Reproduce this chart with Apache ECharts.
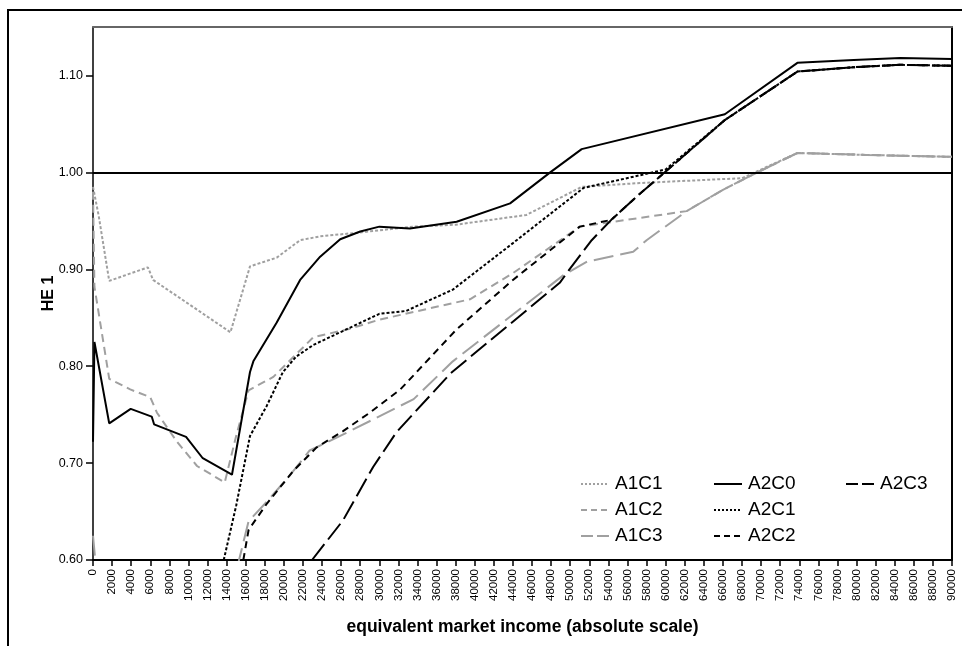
<!DOCTYPE html>
<html>
<head>
<meta charset="utf-8">
<script src="https://cdn.jsdelivr.net/npm/echarts@6/dist/echarts.min.js"></script>
<style>
html,body{margin:0;padding:0;background:#fff;}
#chart{width:962px;height:646px;}
</style>
</head>
<body>
<div id="chart"></div>
<script>
// ---- data (income, HE 1) ----
const A1C1 = [[0,0.985],[600,0.955],[1700,0.888],[5750,0.902],[6300,0.889],[14400,0.835],[16450,0.903],[19250,0.912],[21700,0.930],[23800,0.934],[28000,0.938],[33500,0.944],[38000,0.946],[45400,0.956],[51200,0.985],[57300,0.989],[68000,0.994],[73800,1.020],[81000,1.018],[90000,1.016]];
const A1C2 = [[0,0.98],[150,0.882],[1700,0.787],[3900,0.776],[6000,0.768],[6700,0.752],[8800,0.722],[10900,0.697],[13800,0.680],[15000,0.728],[16300,0.775],[18900,0.789],[23100,0.830],[26700,0.838],[30000,0.848],[39500,0.869],[44000,0.896],[51000,0.944],[57300,0.953],[62200,0.960],[66000,0.982],[69600,1.000],[73800,1.020],[81000,1.018],[90000,1.016]];
const A1C3 = [[0,0.625],[1000,0.52],[14000,0.52],[15300,0.60],[16300,0.640],[18200,0.660],[20600,0.687],[22700,0.713],[25900,0.728],[33600,0.766],[37700,0.805],[49300,0.894],[51800,0.908],[56600,0.918],[58000,0.930],[62200,0.960],[66000,0.982],[69600,1.000],[73800,1.020],[81000,1.018],[90000,1.016]];
const A2C0 = [[0,0.722],[150,0.825],[1700,0.741],[3950,0.756],[6150,0.748],[6400,0.740],[9750,0.727],[11500,0.705],[14560,0.688],[16450,0.794],[16800,0.805],[19250,0.845],[21700,0.889],[23800,0.913],[25900,0.931],[28000,0.939],[30000,0.944],[33200,0.942],[38100,0.949],[43700,0.968],[47900,1.000],[51200,1.024],[66200,1.060],[73800,1.113],[79700,1.116],[84600,1.118],[90000,1.117]];
const A2C1 = [[13700,0.60],[15000,0.656],[16450,0.728],[18200,0.759],[19900,0.794],[21300,0.810],[23100,0.822],[25900,0.835],[30000,0.854],[32800,0.857],[37700,0.879],[44000,0.927],[51400,0.984],[57300,0.997],[60000,1.003],[66200,1.054],[73800,1.104],[79700,1.1085],[84600,1.111],[90000,1.110]];
const A2C2 = [[15750,0.60],[16300,0.631],[18200,0.658],[21000,0.692],[23400,0.716],[26200,0.733],[29000,0.752],[32200,0.776],[38100,0.838],[44000,0.889],[51000,0.944],[54300,0.951],[57300,0.978],[59900,1.000],[66200,1.054],[73800,1.104],[79700,1.1085],[84600,1.111],[90000,1.110]];
const A2C3 = [[22950,0.60],[26200,0.641],[29350,0.696],[31800,0.732],[37500,0.793],[48900,0.886],[50000,0.901],[52250,0.930],[54300,0.951],[57300,0.978],[59900,1.000],[66200,1.054],[73800,1.104],[79700,1.1085],[84600,1.111],[90000,1.110]];
const referenceLevel = 1.00;
const yTicks = [0.6, 0.7, 0.8, 0.9, 1.0, 1.1];
const xMin = 0, xMax = 90000, xStep = 2000;
const yMin = 0.6, yMax = 1.15;
const xName = 'equivalent market income (absolute scale)';
const yName = 'HE 1';

const GRAY = '#a0a0a0';
const BLACK = '#000000';
const FONT = '"Liberation Sans", Arial, sans-serif';

// line dash styles (plot, legend sample)
const DOT = [3, 2], DASH = [8, 5], LONG = [20, 7];
const DOT_L = [2, 2], DASH_L = [6, 4], LONG_L = [12, 4];

function mk(name, data, color, type, z) {
  return {
    name: name, type: 'line', data: data, symbol: 'none', clip: true,
    z: z, animation: false,
    lineStyle: { color: color, width: 2, type: type },
    itemStyle: { color: color }
  };
}

const series = [
  mk('A1C1', A1C1, GRAY, DOT, 2),
  mk('A1C2', A1C2, GRAY, DASH, 2),
  mk('A1C3', A1C3, GRAY, LONG, 2),
  mk('A2C0', A2C0, BLACK, 'solid', 3),
  mk('A2C1', A2C1, BLACK, DOT, 3),
  mk('A2C2', A2C2, BLACK, [7, 5], 3),
  mk('A2C3', A2C3, BLACK, [20, 6], 3)
];
series[3].markLine = {
  silent: true, symbol: 'none', animation: false,
  label: { show: false },
  lineStyle: { color: BLACK, width: 2, type: 'solid' },
  data: [{ yAxis: referenceLevel }]
};

function item(name, type) {
  return { name: name, lineStyle: { type: type, width: 2 } };
}

function legend(items, left) {
  return {
    data: items, orient: 'vertical', left: left, top: 474,
    padding: 0, itemGap: 6, itemWidth: 28, itemHeight: 14,
    selectedMode: false,
    itemStyle: { opacity: 0 },
    textStyle: { fontFamily: FONT, fontSize: 19, color: '#000', lineHeight: 20, padding: [0, 0, 0, 1] }
  };
}

const chart = echarts.init(document.getElementById('chart'), null, { renderer: 'canvas' });
chart.setOption({
  backgroundColor: '#fff',
  animation: false,
  textStyle: { fontFamily: FONT },
  grid: { left: 93, top: 27, right: 10, bottom: 86, containLabel: false },
  legend: [
    legend([item('A1C1', DOT_L), item('A1C2', DASH_L), item('A1C3', LONG_L)], 580),
    legend([item('A2C0', 'solid'), item('A2C1', DOT_L), item('A2C2', DASH_L)], 713),
    legend([item('A2C3', LONG_L)], 845)
  ],
  graphic: [{
    type: 'rect', silent: true,
    shape: { x: 8, y: 10, width: 960, height: 700 },
    style: { fill: 'none', stroke: '#000', lineWidth: 2 }
  }],
  xAxis: [{
    type: 'value', min: xMin, max: xMax, interval: xStep,
    name: xName, nameLocation: 'middle', nameGap: 58, nameMoveOverlap: false,
    nameTextStyle: { fontFamily: FONT, fontSize: 17.5, fontWeight: 'bold', color: '#000' },
    axisLine: { show: true, lineStyle: { color: '#000', width: 2 } },
    axisTick: { show: true, length: 6, lineStyle: { color: '#000', width: 1.5 } },
    axisLabel: { rotate: 90, fontSize: 11.5, color: '#000', margin: 9, fontFamily: FONT,
      formatter: function (v) { return String(v); } },
    splitLine: { show: false }
  }, {
    type: 'value', min: xMin, max: xMax, position: 'top',
    axisLine: { show: true, onZero: false, lineStyle: { color: '#666', width: 2 } },
    axisTick: { show: false }, axisLabel: { show: false }, splitLine: { show: false }
  }],
  yAxis: [{
    type: 'value', min: yMin, max: yMax,
    name: yName, nameLocation: 'middle', nameGap: 36, nameMoveOverlap: false,
    nameTextStyle: { fontFamily: FONT, fontSize: 16, fontWeight: 'bold', color: '#000' },
    axisLine: { show: true, lineStyle: { color: '#000', width: 1.5 } },
    axisTick: { show: true, length: 7, customValues: yTicks, lineStyle: { color: '#000', width: 1.5 } },
    axisLabel: { customValues: yTicks, fontSize: 12.5, color: '#000', margin: 10, fontFamily: FONT,
      formatter: function (v) { return v.toFixed(2); } },
    splitLine: { show: false }
  }, {
    type: 'value', min: yMin, max: yMax, position: 'right',
    axisLine: { show: true, onZero: false, lineStyle: { color: '#000', width: 2 } },
    axisTick: { show: false }, axisLabel: { show: false }, splitLine: { show: false }
  }],
  series: series
});
</script>
</body>
</html>
